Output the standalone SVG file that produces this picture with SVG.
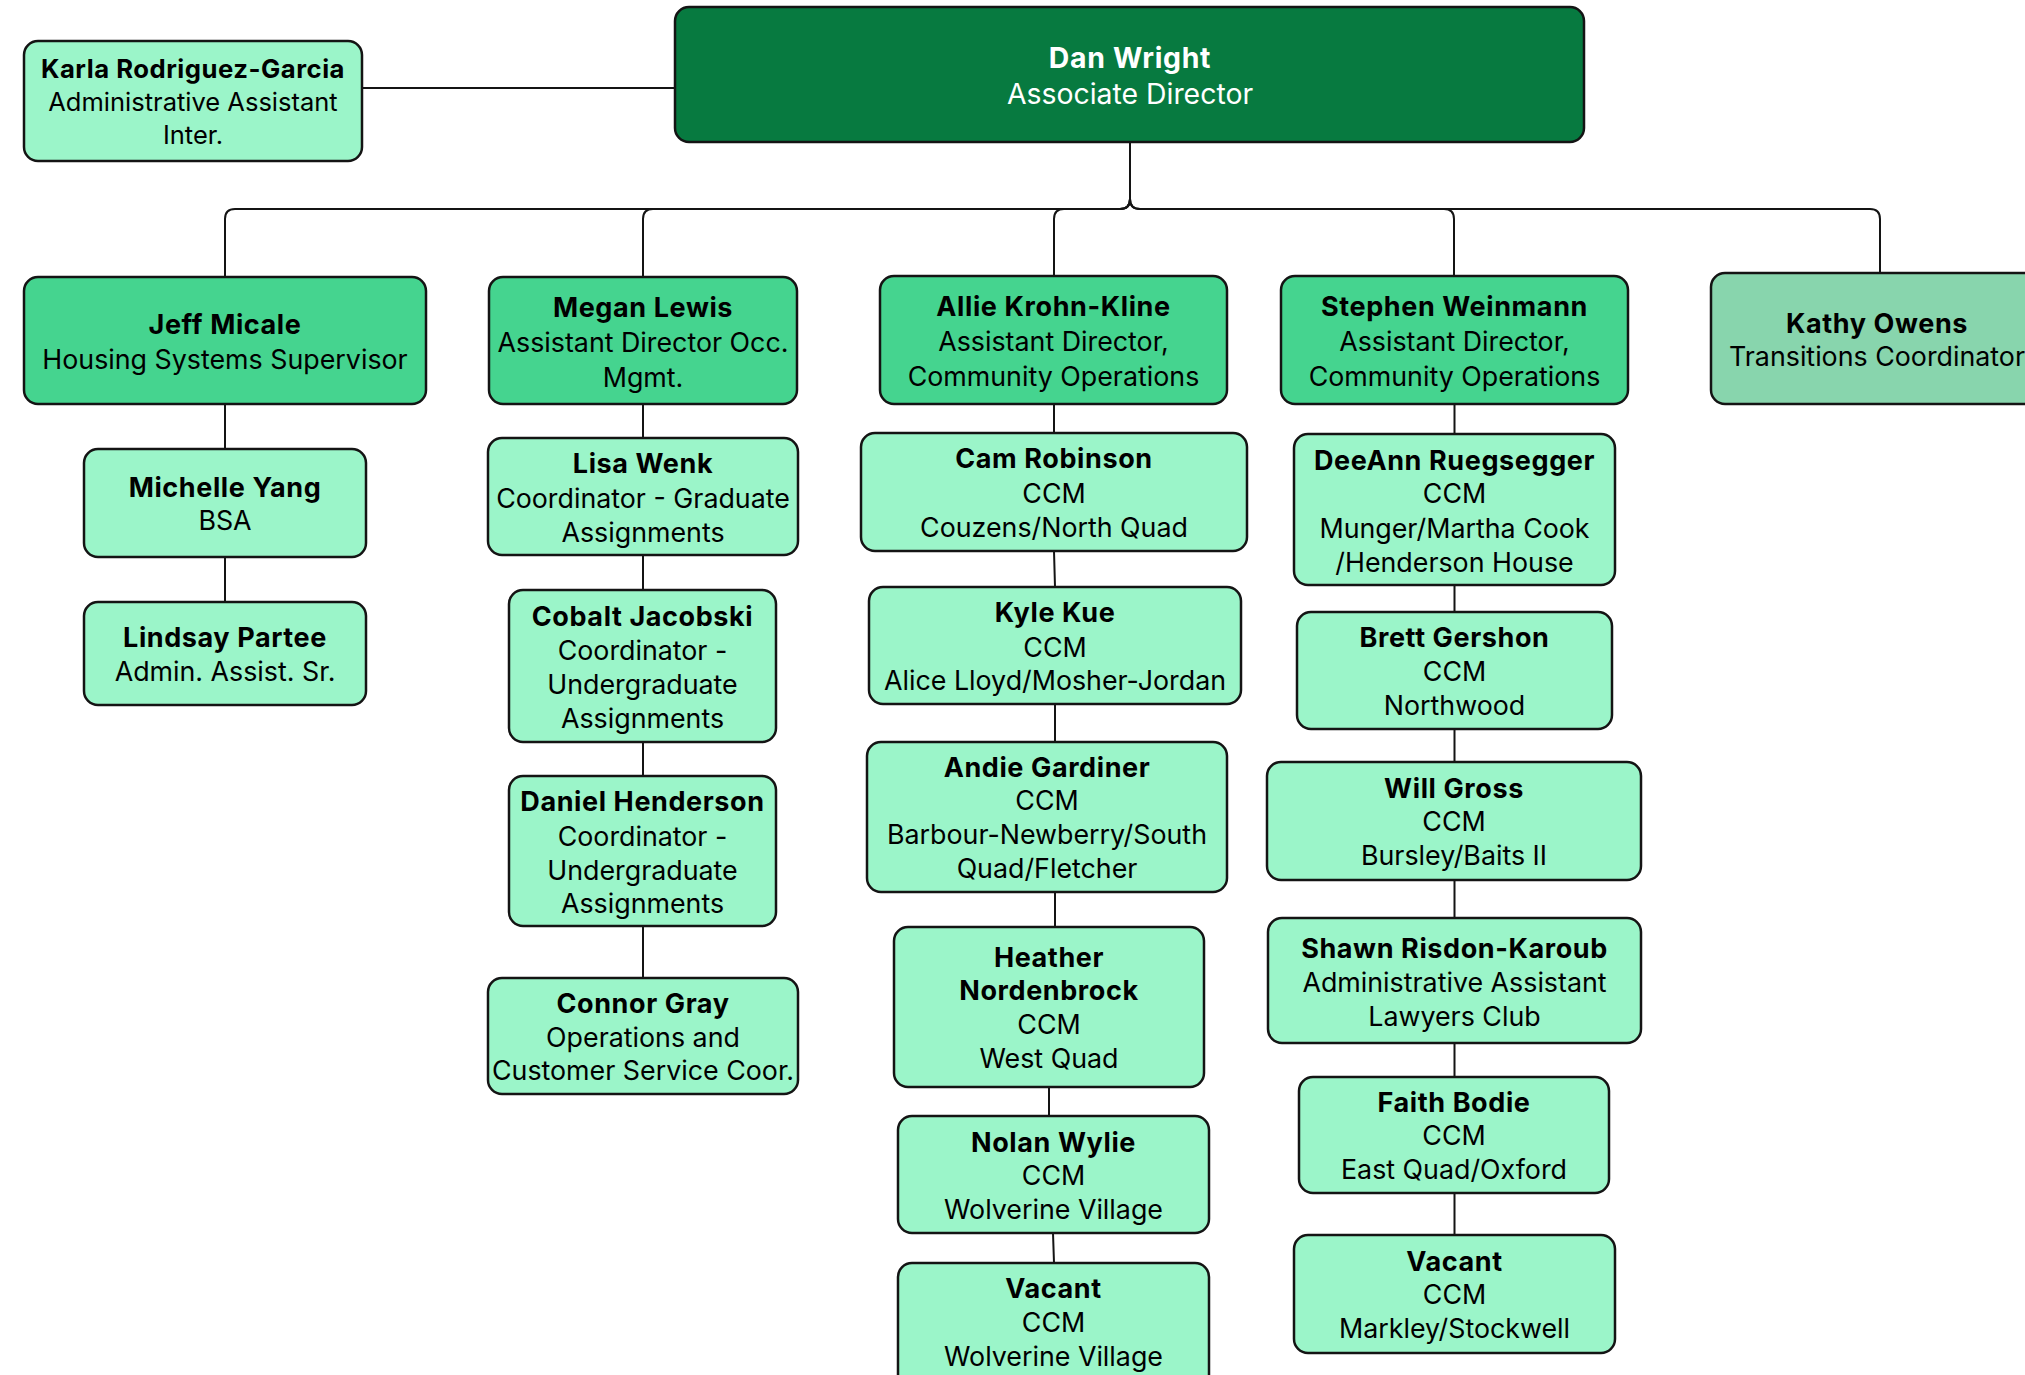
<svg xmlns="http://www.w3.org/2000/svg" width="2025" height="1375" viewBox="0 0 2025 1375">
<style>
.box{stroke:#141414;stroke-width:2.5}
.top{fill:#077a40}
.l2{fill:#45d48f}
.lt{fill:#9bf5c9}
.ko{fill:#88d5ad}
text{font-family:"Inter","Liberation Sans",sans-serif;font-size:26.8px;text-anchor:middle;fill:#000}
.b{font-weight:700;font-size:27px;letter-spacing:0.6px}
.k{font-size:25.5px}
.k.b{font-size:25.7px;letter-spacing:0.5px}
.d{font-size:28.4px}
.d.b{letter-spacing:0.7px}
.w{fill:#fff}
.c{fill:none;stroke:#141414;stroke-width:2}
</style>
<rect width="2025" height="1375" fill="#fff"/>
<g id="connectors">
<path class="c" d="M362,88H675" stroke-width="2.6"/>
<path class="c" d="M1130,142V199Q1130,209 1120,209H235Q225,209 225,219V277"/>
<path class="c" d="M1130,142V199Q1130,209 1120,209H653Q643,209 643,219V277"/>
<path class="c" d="M1130,142V199Q1130,209 1120,209H1064Q1054,209 1054,219V276"/>
<path class="c" d="M1130,142V199Q1130,209 1140,209H1444Q1454,209 1454,219V276"/>
<path class="c" d="M1130,142V199Q1130,209 1140,209H1870Q1880,209 1880,219V273"/>
<path class="c" d="M225,404V449M225,557V602"/>
<path class="c" d="M643,404V438M643,555V590M643,742V776M643,926V978"/>
<path class="c" d="M1054,404V433M1054,551L1055,587M1055,704V742M1055,892V927M1049,1087V1116M1053,1233L1054,1263"/>
<path class="c" d="M1454.5,404V434M1454.5,585V612M1454.5,729V762M1454.5,880V918M1454.5,1043V1077M1454.5,1193V1235"/>
</g>
<g id="karla"><rect class="box lt" x="24" y="41" width="338" height="120" rx="14"/>
<text x="193" y="78" class="b k">Karla Rodriguez-Garcia</text><text x="193" y="111" class="k">Administrative Assistant</text><text x="193" y="144" class="k">Inter.</text></g>
<g id="dan"><rect class="box top" x="675" y="7" width="909" height="135" rx="14"/>
<text x="1130" y="68" class="b d w">Dan Wright</text><text x="1130" y="104" class="d w">Associate Director</text></g>
<g id="jeff"><rect class="box l2" x="24" y="277" width="402" height="127" rx="14"/>
<text x="225" y="334" class="b">Jeff Micale</text><text x="225" y="369">Housing Systems Supervisor</text></g>
<g id="megan"><rect class="box l2" x="489" y="277" width="308" height="127" rx="14"/>
<text x="643" y="317" class="b">Megan Lewis</text><text x="643" y="352">Assistant Director Occ.</text><text x="643" y="387">Mgmt.</text></g>
<g id="allie"><rect class="box l2" x="880" y="276" width="347" height="128" rx="14"/>
<text x="1053.5" y="316" class="b">Allie Krohn-Kline</text><text x="1053.5" y="351">Assistant Director,</text><text x="1053.5" y="386">Community Operations</text></g>
<g id="stephen"><rect class="box l2" x="1281" y="276" width="347" height="128" rx="14"/>
<text x="1454.5" y="316" class="b">Stephen Weinmann</text><text x="1454.5" y="351">Assistant Director,</text><text x="1454.5" y="386">Community Operations</text></g>
<g id="kathy"><rect class="box ko" x="1711" y="273" width="340" height="131" rx="14"/>
<text x="1877" y="333" class="b">Kathy Owens</text><text x="1877" y="366">Transitions Coordinator</text></g>
<g id="michelle"><rect class="box lt" x="84" y="449" width="282" height="108" rx="14"/>
<text x="225" y="497" class="b">Michelle Yang</text><text x="225" y="530">BSA</text></g>
<g id="lindsay"><rect class="box lt" x="84" y="602" width="282" height="103" rx="14"/>
<text x="225" y="647" class="b">Lindsay Partee</text><text x="225" y="681">Admin. Assist. Sr.</text></g>
<g id="lisa"><rect class="box lt" x="488" y="438" width="310" height="117" rx="14"/>
<text x="643" y="473" class="b">Lisa Wenk</text><text x="643" y="508">Coordinator - Graduate</text><text x="643" y="542">Assignments</text></g>
<g id="cobalt"><rect class="box lt" x="509" y="590" width="267" height="152" rx="14"/>
<text x="642.5" y="626" class="b">Cobalt Jacobski</text><text x="642.5" y="660">Coordinator -</text><text x="642.5" y="694">Undergraduate</text><text x="642.5" y="728">Assignments</text></g>
<g id="daniel"><rect class="box lt" x="509" y="776" width="267" height="150" rx="14"/>
<text x="642.5" y="811" class="b">Daniel Henderson</text><text x="642.5" y="846">Coordinator -</text><text x="642.5" y="880">Undergraduate</text><text x="642.5" y="913">Assignments</text></g>
<g id="connor"><rect class="box lt" x="488" y="978" width="310" height="116" rx="14"/>
<text x="643" y="1013" class="b">Connor Gray</text><text x="643" y="1047">Operations and</text><text x="643" y="1080">Customer Service Coor.</text></g>
<g id="cam"><rect class="box lt" x="861" y="433" width="386" height="118" rx="14"/>
<text x="1054" y="468" class="b">Cam Robinson</text><text x="1054" y="503">CCM</text><text x="1054" y="537">Couzens/North Quad</text></g>
<g id="kyle"><rect class="box lt" x="869" y="587" width="372" height="117" rx="14"/>
<text x="1055" y="622" class="b">Kyle Kue</text><text x="1055" y="657">CCM</text><text x="1055" y="690">Alice Lloyd/Mosher-Jordan</text></g>
<g id="andie"><rect class="box lt" x="867" y="742" width="360" height="150" rx="14"/>
<text x="1047" y="777" class="b">Andie Gardiner</text><text x="1047" y="810">CCM</text><text x="1047" y="844">Barbour-Newberry/South</text><text x="1047" y="878">Quad/Fletcher</text></g>
<g id="heather"><rect class="box lt" x="894" y="927" width="310" height="160" rx="14"/>
<text x="1049" y="967" class="b">Heather</text><text x="1049" y="1000" class="b">Nordenbrock</text><text x="1049" y="1034">CCM</text><text x="1049" y="1068">West Quad</text></g>
<g id="nolan"><rect class="box lt" x="898" y="1116" width="311" height="117" rx="14"/>
<text x="1053.5" y="1152" class="b">Nolan Wylie</text><text x="1053.5" y="1185">CCM</text><text x="1053.5" y="1219">Wolverine Village</text></g>
<g id="vacant-wv"><rect class="box lt" x="898" y="1263" width="311" height="130" rx="14"/>
<text x="1053.5" y="1298" class="b">Vacant</text><text x="1053.5" y="1332">CCM</text><text x="1053.5" y="1366">Wolverine Village</text></g>
<g id="deeann"><rect class="box lt" x="1294" y="434" width="321" height="151" rx="14"/>
<text x="1454.5" y="470" class="b">DeeAnn Ruegsegger</text><text x="1454.5" y="503">CCM</text><text x="1454.5" y="538">Munger/Martha Cook</text><text x="1454.5" y="572">/Henderson House</text></g>
<g id="brett"><rect class="box lt" x="1297" y="612" width="315" height="117" rx="14"/>
<text x="1454.5" y="647" class="b">Brett Gershon</text><text x="1454.5" y="681">CCM</text><text x="1454.5" y="715">Northwood</text></g>
<g id="will"><rect class="box lt" x="1267" y="762" width="374" height="118" rx="14"/>
<text x="1454" y="798" class="b">Will Gross</text><text x="1454" y="831">CCM</text><text x="1454" y="865">Bursley/Baits II</text></g>
<g id="shawn"><rect class="box lt" x="1268" y="918" width="373" height="125" rx="14"/>
<text x="1454.5" y="958" class="b">Shawn Risdon-Karoub</text><text x="1454.5" y="992">Administrative Assistant</text><text x="1454.5" y="1026">Lawyers Club</text></g>
<g id="faith"><rect class="box lt" x="1299" y="1077" width="310" height="116" rx="14"/>
<text x="1454" y="1112" class="b">Faith Bodie</text><text x="1454" y="1145">CCM</text><text x="1454" y="1179">East Quad/Oxford</text></g>
<g id="vacant-ms"><rect class="box lt" x="1294" y="1235" width="321" height="118" rx="14"/>
<text x="1454.5" y="1271" class="b">Vacant</text><text x="1454.5" y="1304">CCM</text><text x="1454.5" y="1338">Markley/Stockwell</text></g>
</svg>
